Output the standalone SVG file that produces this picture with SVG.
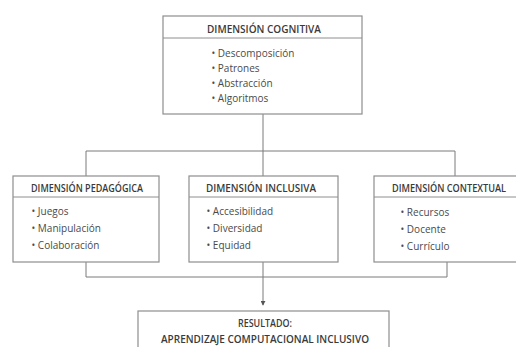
<svg xmlns="http://www.w3.org/2000/svg" width="516" height="347" viewBox="0 0 516 347">
<defs>
<style>
.box{fill:#fff;stroke:#8e8e8e;stroke-width:1.2}
.sep{stroke:#8e8e8e;stroke-width:1}
.hd{font-family:"Open Sans","Noto Sans",sans-serif;font-size:10.2px;font-weight:600;fill:#3a3a3a;text-anchor:middle}
.it{font-family:"Open Sans","Noto Sans",sans-serif;font-size:10px;fill:#4a4a4a}
.ln{fill:none;stroke:#7a7a7a;stroke-width:1}
</style>
<marker id="arr" viewBox="0 0 6 6" refX="5" refY="3" markerWidth="5" markerHeight="5" orient="auto">
<path d="M0,0 L6,3 L0,6 z" fill="#555"/>
</marker>
</defs>
<rect width="516" height="347" fill="#fff"/>
<g id="connectors">
<path class="ln" d="M263,114 V151 M86,151 H455 M86,151 V176 M263,151 V176 M455,151 V176"/>
<path class="ln" d="M86,262 V277 M263,262 V277 M447,262 V277 M86,277 H447"/>
<path class="ln" d="M263,277 V305" marker-end="url(#arr)"/>
</g>
<g id="cognitiva">
<rect class="box" x="163" y="16" width="199" height="98"/>
<line class="sep" x1="163" y1="38" x2="362" y2="38"/>
<text class="hd" x="264" y="32.5" textLength="114" lengthAdjust="spacingAndGlyphs">DIMENSIÓN COGNITIVA</text>
<text class="it" x="211.5" y="56.5">• Descomposición</text>
<text class="it" x="211.5" y="72">• Patrones</text>
<text class="it" x="211.5" y="86.5">• Abstracción</text>
<text class="it" x="211.5" y="102">• Algoritmos</text>
</g>
<g id="pedagogica">
<rect class="box" x="13" y="176" width="146" height="86"/>
<line class="sep" x1="13" y1="197" x2="159" y2="197"/>
<text class="hd" x="87" y="191.5" textLength="112" lengthAdjust="spacingAndGlyphs">DIMENSIÓN PEDAGÓGICA</text>
<text class="it" x="31.5" y="214.5">• Juegos</text>
<text class="it" x="31.5" y="231.5">• Manipulación</text>
<text class="it" x="31.5" y="248.5">• Colaboración</text>
</g>
<g id="inclusiva">
<rect class="box" x="189" y="176" width="149" height="86"/>
<line class="sep" x1="189" y1="197" x2="338" y2="197"/>
<text class="hd" x="261" y="191.5" textLength="110" lengthAdjust="spacingAndGlyphs">DIMENSIÓN INCLUSIVA</text>
<text class="it" x="206.5" y="214.5">• Accesibilidad</text>
<text class="it" x="206.5" y="231.5">• Diversidad</text>
<text class="it" x="206.5" y="248.5">• Equidad</text>
</g>
<g id="contextual">
<rect class="box" x="374" y="176" width="143" height="86"/>
<line class="sep" x1="374" y1="197" x2="517" y2="197"/>
<text class="hd" transform="translate(449,191.5) scale(0.9,1)" x="0" y="0">DIMENSIÓN CONTEXTUAL</text>
<text class="it" x="400.5" y="215.5">• Recursos</text>
<text class="it" x="400.5" y="232.5">• Docente</text>
<text class="it" x="400.5" y="249.5">• Currículo</text>
</g>
<g id="resultado">
<rect class="box" x="138" y="311" width="251" height="50"/>
<text class="hd" x="265" y="326.5" textLength="54" lengthAdjust="spacingAndGlyphs">RESULTADO:</text>
<text class="hd" x="265" y="342.5" textLength="208" lengthAdjust="spacingAndGlyphs">APRENDIZAJE COMPUTACIONAL INCLUSIVO</text>
</g>
</svg>
